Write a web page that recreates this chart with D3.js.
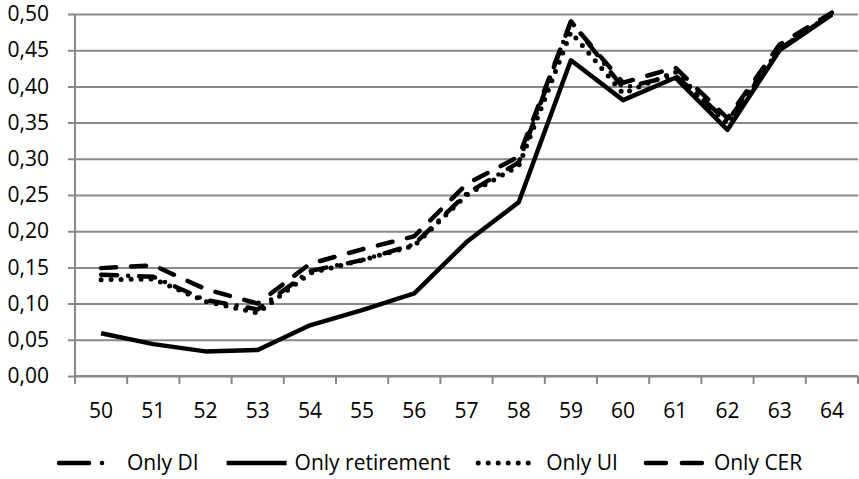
<!DOCTYPE html>
<html>
<head>
<meta charset="utf-8">
<script src="https://cdn.jsdelivr.net/npm/d3@7"></script>
<style>
  body { margin: 0; background: #fff; }
  text { font-family: "Open Sans", sans-serif; fill: #000; }
</style>
</head>
<body>
<svg id="chart" width="859" height="479"></svg>
<script>
var ages = [50, 51, 52, 53, 54, 55, 56, 57, 58, 59, 60, 61, 62, 63, 64];
var onlyDI = [0.140, 0.137, 0.105, 0.092, 0.145, 0.160, 0.182, 0.252, 0.295, 0.490, 0.398, 0.415, 0.352, 0.452, 0.500];
var onlyRetirement = [0.059, 0.044, 0.034, 0.036, 0.070, 0.091, 0.114, 0.185, 0.240, 0.436, 0.381, 0.412, 0.340, 0.450, 0.499];
var onlyUI = [0.133, 0.134, 0.103, 0.087, 0.142, 0.160, 0.180, 0.250, 0.290, 0.475, 0.390, 0.420, 0.348, 0.452, 0.500];
var onlyCER = [0.149, 0.153, 0.120, 0.100, 0.155, 0.175, 0.193, 0.265, 0.303, 0.489, 0.405, 0.426, 0.356, 0.458, 0.502];
var yTicks = [0, 0.05, 0.10, 0.15, 0.20, 0.25, 0.30, 0.35, 0.40, 0.45, 0.50];

var series = [
  { name: 'Only DI', values: onlyDI, dash: '16,11,0,11', legendDash: '30,13,0,40', width: 4.5 },
  { name: 'Only retirement', values: onlyRetirement, dash: null, legendDash: null, width: 4.5 },
  { name: 'Only UI', values: onlyUI, dash: '0,10', legendDash: '0,10', width: 5 },
  { name: 'Only CER', values: onlyCER, dash: '15,15', legendDash: '20,16', width: 4.5 }
];

var svg = d3.select('#chart');
var plotLeft = 75, plotRight = 858, plotTop = 14, plotBottom = 376;
var gridColor = '#898989';
var fontSize = '21px';

var x = d3.scaleBand().domain(ages).range([plotLeft, plotRight]).paddingInner(0).paddingOuter(0);
var y = d3.scaleLinear().domain([0, 0.5]).range([plotBottom, plotTop]);

var comma = d3.formatLocale({ decimal: ',', thousands: '.', grouping: [3], currency: ['', ''] }).format('.2f');

// horizontal gridlines + y labels
var yAxis = d3.axisLeft(y).tickValues(yTicks).tickFormat(comma)
  .tickSize(-(plotRight - plotLeft)).tickSizeOuter(0);
var gy = svg.append('g').attr('transform', 'translate(' + plotLeft + ',0)').call(yAxis);
gy.select('.domain').remove();
gy.selectAll('.tick line').attr('stroke', gridColor).attr('stroke-width', 2).attr('x1', -7);
gy.selectAll('.tick text').attr('x', -26).style('font-size', fontSize);

// y axis line
svg.append('line').attr('x1', plotLeft).attr('x2', plotLeft).attr('y1', plotTop).attr('y2', plotBottom)
  .attr('stroke', gridColor).attr('stroke-width', 2);

// x axis: ticks between categories
svg.append('line').attr('x1', plotLeft).attr('x2', plotRight).attr('y1', plotBottom).attr('y2', plotBottom)
  .attr('stroke', gridColor).attr('stroke-width', 2);
var bounds = ages.map(function(a) { return x(a); }).concat([plotRight]);
svg.selectAll('.xtick').data(bounds).enter().append('line')
  .attr('x1', function(d) { return d; }).attr('x2', function(d) { return d; })
  .attr('y1', plotBottom).attr('y2', plotBottom + 8)
  .attr('stroke', gridColor).attr('stroke-width', 2);
svg.selectAll('.xlabel').data(ages).enter().append('text')
  .attr('x', function(d) { return x(d) + x.bandwidth() / 2; })
  .attr('y', 418)
  .attr('text-anchor', 'middle')
  .style('font-size', fontSize)
  .text(function(d) { return d; });

var line = d3.line()
  .x(function(d, i) { return x(ages[i]) + x.bandwidth() / 2; })
  .y(function(d) { return y(d); });

series.forEach(function(s) {
  svg.append('path').datum(s.values)
    .attr('d', line)
    .attr('fill', 'none')
    .attr('stroke', '#000')
    .attr('stroke-width', s.width)
    .attr('stroke-linecap', s.dash ? 'round' : 'butt')
    .attr('stroke-linejoin', 'round')
    .attr('stroke-dasharray', s.dash);
});

// legend
var legend = svg.append('g');
var lx = 0, ly = 463;
series.forEach(function(s) {
  var g = legend.append('g').attr('transform', 'translate(' + lx + ',0)');
  g.append('line').attr('x1', 2).attr('x2', 62).attr('y1', ly).attr('y2', ly)
    .attr('stroke', '#000')
    .attr('stroke-width', s.width)
    .attr('stroke-linecap', s.legendDash ? 'round' : 'butt')
    .attr('stroke-dasharray', s.legendDash);
  var t = g.append('text').attr('x', 70).attr('y', ly + 7).style('font-size', fontSize).text(s.name);
  lx += 70 + t.node().getComputedTextLength() + 26;
});
var lw = lx - 26;
legend.attr('transform', 'translate(' + Math.round((859 - lw) / 2) + ',0)');
</script>
</body>
</html>
